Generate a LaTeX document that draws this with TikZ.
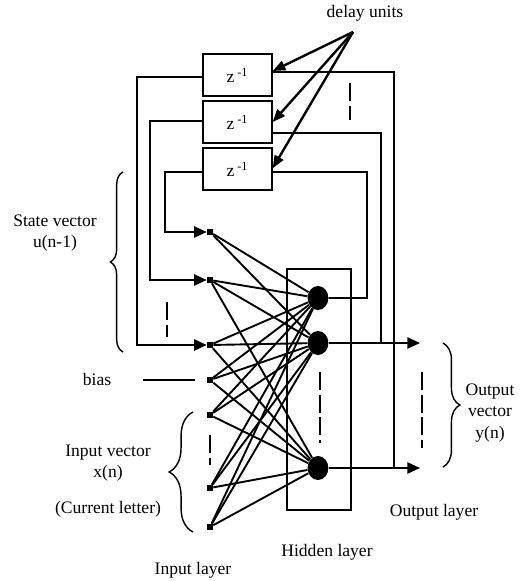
\documentclass[tikz,border=0pt]{standalone}
\usepackage{fontspec}
\setmainfont{Liberation Serif}
\usetikzlibrary{arrows.meta,positioning,shapes.geometric,decorations.pathreplacing}

\begin{document}
\begin{tikzpicture}[
    x=0.025cm, y=-0.025cm,
    every node/.style={font=\fontsize{12.5}{15}\selectfont},
    delaybox/.style={draw, line width=1pt, minimum width=1.725cm,
                     minimum height=1.05cm, inner sep=0pt},
    innode/.style={fill, rectangle, minimum size=0.15cm, inner sep=0pt},
    hidnode/.style={fill, ellipse, minimum width=0.52cm,
                    minimum height=0.6cm, inner sep=0pt},
    hidbox/.style={draw, line width=1pt, minimum width=1.6cm,
                   minimum height=6.025cm, inner sep=0pt},
    lbl/.style={align=center, inner sep=0pt},
    conn/.style={line width=1.35pt},
    feed/.style={line width=1.25pt},
    arr/.style={-{Triangle[length=9pt, width=8pt]}},
    darr/.style={line width=1.7pt, -{Triangle[length=9pt, width=7pt]}},
    gapline/.style={line width=1pt, dash pattern=on 13pt off 3pt},
    brace/.style={line width=1pt, decorate, decoration={brace, amplitude=#1}}
]
\useasboundingbox (0,0) rectangle (520,581);

% Unites de retard
\node[delaybox] (d1) at (237.5, 75)  {z\,\textsuperscript{-1}};
\node[delaybox] (d2) at (237.5, 122) {z\,\textsuperscript{-1}};
\node[delaybox] (d3) at (237.5, 169) {z\,\textsuperscript{-1}};

\node[lbl] (dlabel) at (365, 13) {delay units};
\coordinate (dsrc) at (353, 32);
\draw[darr] (dsrc) -- ([yshift=0.1cm]d1.east);
\draw[darr] (dsrc) -- (d2.east);
\draw[darr] (dsrc) -- ([yshift=0.02cm]d3.east);

% Couche d'entree
\node[innode] (i1) at (210, 232) {};
\node[innode] (i2) at (210, 280) {};
\node[innode] (i3) at (210, 345) {};
\node[innode] (i4) at (210, 380) {};
\node[innode] (i5) at (210, 415) {};
\node[innode] (i6) at (210, 488) {};
\node[innode] (i7) at (210, 527) {};

% Couche cachee
\node[hidbox] (hbox) at (319, 389.5) {};
\node[hidnode] (h1) at (318, 298) {};
\node[hidnode] (h2) at (318, 343) {};
\node[hidnode] (h3) at (318, 468) {};

% Entree -> cachee
\draw[conn] (i1) -- (h1);
\draw[conn] (i1) -- (h2);
\foreach \i in {2,...,7}
  \foreach \h in {1,2,3}
    \draw[conn] (i\i) -- (h\h);

% Sorties
\coordinate (o2) at (420, 343);
\coordinate (o3) at (420, 468);
\draw[conn, arr] (h2) -- (o2);
\draw[conn, arr] (h3) -- (o3);

% Bouclage a droite
\coordinate (c3) at (367, 172);
\coordinate (c2) at (381, 133);
\coordinate (c1) at (394, 72);
\draw[feed] (h1.east) -| (c3) -- ([yshift=-0.075cm]d3.east);
\draw[feed] ([yshift=-0.275cm]d2.east) -- (c2) -- (c2 |- h2);
\draw[feed] ([yshift=0.075cm]d1.east) -- (c1) -- (c1 |- h3);

% Bouclage a gauche
\coordinate (l1) at (137, 77);
\coordinate (l2) at (150, 121);
\coordinate (l3) at (165, 172);
\draw[feed, arr] ([yshift=-0.05cm]d1.west) -- (l1) |- (i3);
\draw[feed, arr] ([yshift=0.025cm]d2.west) -- (l2) |- (i2);
\draw[feed, arr] ([yshift=-0.075cm]d3.west) -- (l3) |- (i1);

% Biais
\coordinate (bs) at (143, 380);
\draw[feed, shorten >=0.3cm] (bs) -- (i4);

% Pointilles
\draw[gapline] (167, 302) -- (167, 337);
\draw[gapline] (350, 83) -- (350, 120);
\draw[gapline] (320, 372) -- (320, 443);
\draw[gapline] (210, 435) -- (210, 465);
\draw[gapline] (422, 372) -- (422, 448);

% Accolades
\draw[brace=9pt] (123, 352) -- (123, 172);
\draw[brace=17pt] (193, 532) -- (193, 412);
\draw[brace=12pt] (443, 343) -- (443, 467);

% Etiquettes
\node[lbl] (lstate) at (55, 233) {State vector\\u(n-1)};
\node[lbl] (lbias) at (97, 379) {bias};
\node[lbl] (linput) at (108, 463) {Input vector\\x(n)};
\node[lbl] (lcur) at (108, 509) {(Current letter)};
\node[lbl] (lout) at (490, 413) {Output\\vector\\y(n)};
\node[lbl] (lolayer) at (434, 512) {Output layer};
\node[lbl] (lhlayer) at (327, 552) {Hidden layer};
\node[lbl] (lilayer) at (193, 570) {Input layer};
\end{tikzpicture}
\end{document}
